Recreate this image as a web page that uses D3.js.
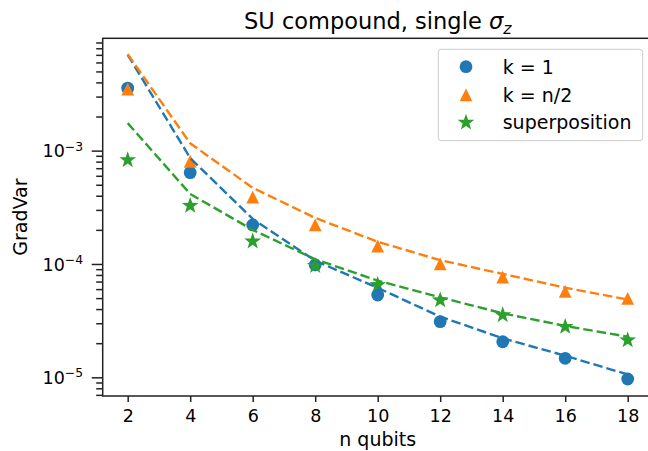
<!doctype html>
<html lang="en">
<head>
    <meta charset="UTF-8">
    <title>SU compound, single sigma z</title>
    <script src="https://d3js.org/d3.v7.min.js"></script>
    <style>
        body { margin: 0; background: #fff; }
        text { font-family: "DejaVu Sans", sans-serif; fill: #000; }
    </style>
</head>
<body>
<div id="chart-area"></div>

<script>

// data
const nQubits = [2, 4, 6, 8, 10, 12, 14, 16, 18];
const kOne     = [3.56e-3, 6.4e-4, 2.21e-4, 9.8e-5, 5.32e-5, 3.1e-5, 2.06e-5, 1.47e-5, 9.66e-6];
const kHalf    = [3.49e-3, 8.06e-4, 3.89e-4, 2.21e-4, 1.44e-4, 1.0e-4, 7.64e-5, 5.74e-5, 4.98e-5];
const superpos = [8.4e-4, 3.32e-4, 1.61e-4, 9.8e-5, 6.65e-5, 4.87e-5, 3.6e-5, 2.84e-5, 2.16e-5];

// dashed fit curves
const kOneFit     = [7.0e-3, 8.6e-4, 2.5e-4, 1.07e-4, 6.15e-5, 3.43e-5, 2.21e-5, 1.55e-5, 1.06e-5];
const kHalfFit    = [7.1e-3, 1.16e-3, 4.7e-4, 2.55e-4, 1.57e-4, 1.08e-4, 8.17e-5, 6.18e-5, 4.85e-5];
const superposFit = [1.75e-3, 4.15e-4, 2.0e-4, 1.1e-4, 7.13e-5, 5.08e-5, 3.67e-5, 2.84e-5, 2.28e-5];

const xTicks = [2, 4, 6, 8, 10, 12, 14, 16, 18];
const yTicks = [1e-5, 1e-4, 1e-3];
const yTickExp = ['−5', '−4', '−3'];
const legendLabels = ['k = 1', 'k = n/2', 'superposition'];

const W = 648, H = 451;
const plot = { left: 102.7, right: 652.7, top: 38.3, bottom: 396 };

const svg = d3.select('#chart-area')
    .append('svg')
    .attr('width', W)
    .attr('height', H);

const x = d3.scaleLinear()
    .domain([1.2, 18.8])
    .range([plot.left, plot.right]);

const y = d3.scaleLog()
    .domain([6.84e-6, 9.8e-3])
    .range([plot.bottom, plot.top]);

const colors = ['#1f77b4', '#ff7f0e', '#2ca02c'];

// minor log ticks
const minorTicks = [];
[1e-6, 1e-5, 1e-4, 1e-3].forEach(dec => {
    for (let m = 2; m <= 9; m++) {
        const v = m * dec;
        if (v >= y.domain()[0] && v <= y.domain()[1]) minorTicks.push(v);
    }
});

const axisColor = '#222';

// axes
const gx = svg.append('g')
    .attr('transform', `translate(0,${plot.bottom})`)
    .call(d3.axisBottom(x).tickValues(xTicks).tickSize(6).tickSizeOuter(0).tickPadding(8));
gx.selectAll('text').style('font-size', '17.5px').attr('fill', '#000');

const gyMinor = svg.append('g')
    .attr('transform', `translate(${plot.left},0)`)
    .call(d3.axisLeft(y).tickValues(minorTicks).tickSize(6.5).tickSizeOuter(0).tickFormat(''));

const gy = svg.append('g')
    .attr('transform', `translate(${plot.left},0)`)
    .call(d3.axisLeft(y).tickValues(yTicks).tickSize(11).tickSizeOuter(0).tickFormat(''));

[gx, gy, gyMinor].forEach(g => {
    g.selectAll('line').attr('stroke', axisColor).attr('stroke-width', 1.5);
    g.select('.domain').remove();
});

// y tick labels with superscripts
yTicks.forEach((v, i) => {
    const t = svg.append('text')
        .attr('x', 83)
        .attr('y', y(v) + 6.7)
        .attr('text-anchor', 'end')
        .style('font-size', '17.5px');
    t.append('tspan').text('10');
    t.append('tspan')
        .attr('dy', -6.7)
        .style('font-size', '12.3px')
        .text(yTickExp[i]);
});

// frame (right side falls outside the picture)
svg.append('rect')
    .attr('x', plot.left)
    .attr('y', plot.top)
    .attr('width', plot.right - plot.left)
    .attr('height', plot.bottom - plot.top)
    .attr('fill', 'none')
    .attr('stroke', axisColor)
    .attr('stroke-width', 1.5);

// marker shapes
const starPath = (r) => {
    const pts = [];
    for (let k = 0; k < 10; k++) {
        const rr = k % 2 === 0 ? r : r * 0.4;
        const a = -Math.PI / 2 + k * Math.PI / 5;
        pts.push([rr * Math.cos(a), rr * Math.sin(a)]);
    }
    return 'M' + pts.map(p => p.join(',')).join('L') + 'Z';
};
const triPath = (s) => `M0,${-s}L${-s},${s}L${s},${s}Z`;

function drawMarker(g, kind, cx, cy, color) {
    if (kind === 0) {
        g.append('circle').attr('cx', cx).attr('cy', cy).attr('r', 6.4).attr('fill', color);
    } else if (kind === 1) {
        g.append('path').attr('d', triPath(6.4)).attr('transform', `translate(${cx},${cy})`).attr('fill', color);
    } else {
        g.append('path').attr('d', starPath(8.8)).attr('transform', `translate(${cx},${cy + 0.8})`).attr('fill', color);
    }
}

const series = [kOne, kHalf, superpos];
const fits = [kOneFit, kHalfFit, superposFit];

const pts = svg.append('g');
series.forEach((s, k) => {
    s.forEach((v, i) => drawMarker(pts, k, x(nQubits[i]), y(v), colors[k]));
});

const line = d3.line()
    .x((d, i) => x(nQubits[i]))
    .y(d => y(d));

fits.forEach((f, k) => {
    svg.append('path')
        .datum(f)
        .attr('d', line)
        .attr('fill', 'none')
        .attr('stroke', colors[k])
        .attr('stroke-width', 2.4)
        .attr('stroke-dasharray', '9.5,4');
});

// legend
const lg = svg.append('g');
lg.append('rect')
    .attr('x', 438.3)
    .attr('y', 49.3)
    .attr('width', 204.4)
    .attr('height', 91.4)
    .attr('rx', 3)
    .attr('fill', '#fff')
    .attr('fill-opacity', 0.8)
    .attr('stroke', '#ccc')
    .attr('stroke-width', 1);

const rowY = [66.7, 94.8, 121.7];
legendLabels.forEach((lab, k) => {
    drawMarker(lg, k, 466, rowY[k], colors[k]);
    lg.append('text')
        .attr('x', 502.7)
        .attr('y', rowY[k] + 6.8)
        .style('font-size', '19px')
        .text(lab);
});

// labels
svg.append('text')
    .attr('x', (plot.left + plot.right) / 2)
    .attr('y', 446)
    .attr('text-anchor', 'middle')
    .style('font-size', '19px')
    .text('n qubits');

svg.append('text')
    .attr('transform', `translate(27,${(plot.top + plot.bottom) / 2}) rotate(-90)`)
    .attr('text-anchor', 'middle')
    .style('font-size', '19px')
    .text('GradVar');

const title = svg.append('text')
    .attr('x', (plot.left + plot.right) / 2)
    .attr('y', 29)
    .attr('text-anchor', 'middle')
    .style('font-size', '22.5px');
title.append('tspan').text('SU compound, single ');
title.append('tspan').style('font-style', 'italic').text('σ');
title.append('tspan').style('font-style', 'italic').style('font-size', '15.7px').attr('dy', 4.5).text('z');

</script>
</body>
</html>
